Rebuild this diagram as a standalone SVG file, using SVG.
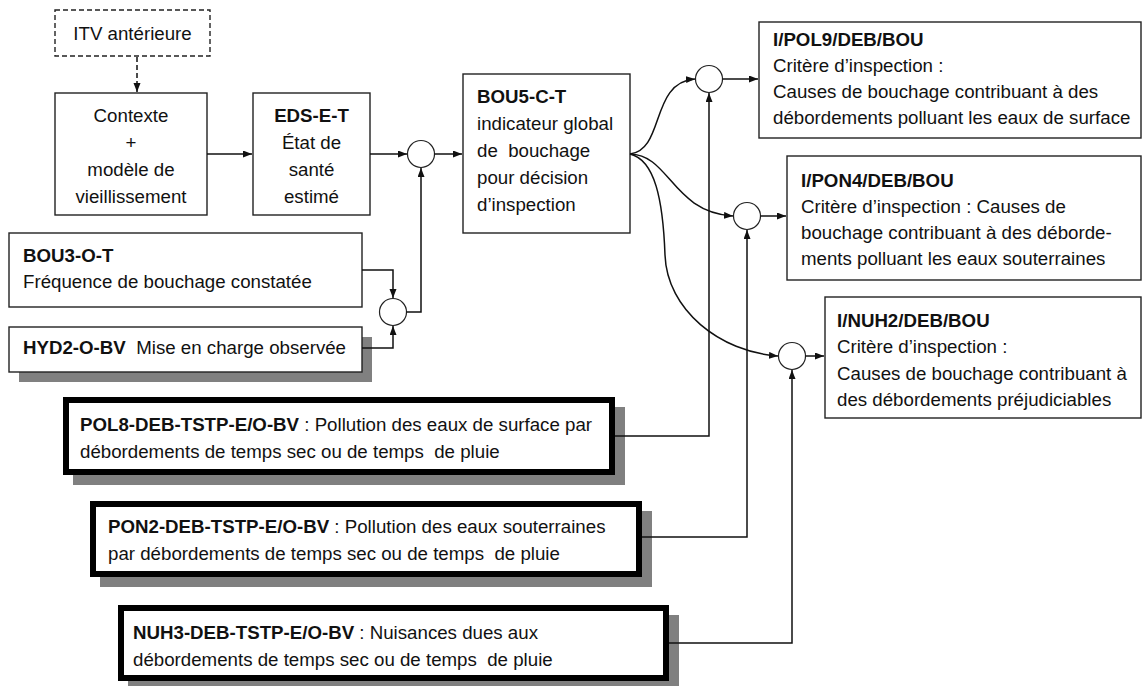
<svg xmlns="http://www.w3.org/2000/svg" width="1144" height="686" viewBox="0 0 1144 686">
<defs>
<marker id="ah" markerUnits="userSpaceOnUse" markerWidth="10" markerHeight="8" refX="9" refY="3.5" orient="auto">
<path d="M0,0 L9,3.5 L0,7 z" fill="#111"/>
</marker>
<style>
text{font-family:"Liberation Sans",Arial,sans-serif;font-size:18.7px;fill:#111;white-space:pre}
.b{font-weight:bold}
.m{text-anchor:middle}
.box{fill:#fff;stroke:#222;stroke-width:1.4}
.dash{fill:#fff;stroke:#222;stroke-width:1.4;stroke-dasharray:5,3}
.thick{fill:#fff;stroke:#000;stroke-width:6}
.sh{fill:#808080}
.circ{fill:#fff;stroke:#222;stroke-width:1.2}
.c{fill:none;stroke:#111;stroke-width:1.5}
</style>
</defs>
<rect width="1144" height="686" fill="#fff"/>

<g id="itv">
<rect class="dash" x="55" y="10" width="155" height="46"/>
<text class="m" x="132.5" y="40">ITV antérieure</text>
</g>
<g id="contexte">
<rect class="box" x="55" y="93" width="152" height="122"/>
<text class="m" x="131" y="122">Contexte</text>
<text class="m" x="131" y="149">+</text>
<text class="m" x="131" y="176">modèle de</text>
<text class="m" x="131" y="203">vieillissement</text>
</g>
<g id="eds">
<rect class="box" x="253" y="93" width="117" height="122"/>
<text class="m b" x="311.5" y="122">EDS-E-T</text>
<text class="m" x="311.5" y="149">État de</text>
<text class="m" x="311.5" y="176">santé</text>
<text class="m" x="311.5" y="203">estimé</text>
</g>
<g id="bou5">
<rect class="box" x="463" y="74" width="167" height="159"/>
<text class="b" x="477" y="103">BOU5-C-T</text>
<text x="477" y="130">indicateur global</text>
<text x="477" y="157">de  bouchage</text>
<text x="477" y="184">pour décision</text>
<text x="477" y="211">d’inspection</text>
</g>
<g id="bou3">
<rect class="box" x="9" y="233" width="353" height="74"/>
<text class="b" x="23" y="262">BOU3-O-T</text>
<text x="23" y="288">Fréquence de bouchage constatée</text>
</g>
<g id="hyd2">
<rect class="sh" x="19" y="337" width="353" height="45"/>
<rect class="box" x="9" y="327" width="353" height="45"/>
<text x="23" y="354"><tspan class="b">HYD2-O-BV</tspan>  Mise en charge observée</text>
</g>
<g id="pol9">
<rect class="box" x="759" y="22" width="382" height="116"/>
<text class="b" x="773" y="46">I/POL9/DEB/BOU</text>
<text x="773" y="72">Critère d’inspection :</text>
<text x="773" y="98">Causes de bouchage contribuant à des</text>
<text x="773" y="124">débordements polluant les eaux de surface</text>
</g>
<g id="pon4">
<rect class="box" x="787" y="156" width="354" height="124"/>
<text class="b" x="801" y="187">I/PON4/DEB/BOU</text>
<text x="801" y="213">Critère d’inspection : Causes de</text>
<text x="801" y="239">bouchage contribuant à des déborde-</text>
<text x="801" y="265">ments polluant les eaux souterraines</text>
</g>
<g id="nuh2">
<rect class="box" x="825" y="297" width="316" height="121"/>
<text class="b" x="837" y="327">I/NUH2/DEB/BOU</text>
<text x="837" y="353">Critère d’inspection :</text>
<text x="837" y="380">Causes de bouchage contribuant à</text>
<text x="837" y="406">des débordements préjudiciables</text>
</g>
<g id="pol8">
<rect class="sh" x="73" y="407" width="552" height="78"/>
<rect class="thick" x="66" y="400" width="546" height="72"/>
<text x="80" y="431"><tspan class="b">POL8-DEB-TSTP-E/O-BV</tspan> : Pollution des eaux de surface par</text>
<text x="80" y="458">débordements de temps sec ou de temps  de pluie</text>
</g>
<g id="pon2">
<rect class="sh" x="100" y="511" width="552" height="76"/>
<rect class="thick" x="93" y="504" width="546" height="70"/>
<text x="108" y="533"><tspan class="b">PON2-DEB-TSTP-E/O-BV</tspan> : Pollution des eaux souterraines</text>
<text x="108" y="560">par débordements de temps sec ou de temps  de pluie</text>
</g>
<g id="nuh3">
<rect class="sh" x="128" y="615" width="551" height="76"/>
<rect class="thick" x="121" y="608" width="545" height="70"/>
<text x="123" y="639" dx="10"><tspan class="b">NUH3-DEB-TSTP-E/O-BV</tspan> : Nuisances dues aux</text>
<text x="133" y="666">débordements de temps sec ou de temps  de pluie</text>
</g>
<g id="op1"><circle class="circ" cx="421" cy="154" r="13.5"/></g>
<g id="op2"><circle class="circ" cx="393" cy="312" r="13.5"/></g>
<g id="op3"><circle class="circ" cx="709" cy="79" r="13.5"/></g>
<g id="op4"><circle class="circ" cx="747" cy="216" r="13.5"/></g>
<g id="op5"><circle class="circ" cx="792" cy="356" r="13.5"/></g>

<g id="connectors">
<path class="c" d="M137,57 L137,92" stroke-dasharray="5,3" marker-end="url(#ah)"/>
<path class="c" d="M207,154 L252,154" marker-end="url(#ah)"/>
<path class="c" d="M370,154 L407,154" marker-end="url(#ah)"/>
<path class="c" d="M434.5,154 L462,154" marker-end="url(#ah)"/>
<path class="c" d="M406.5,312 L421,312 L421,168" marker-end="url(#ah)"/>
<path class="c" d="M362,270 L393,270 L393,298" marker-end="url(#ah)"/>
<path class="c" d="M362,348 L393,348 L393,326" marker-end="url(#ah)"/>
<path class="c" d="M630,154 C665,150 650,82 695,79" marker-end="url(#ah)"/>
<path class="c" d="M630,154 C670,155 672,212 733,216" marker-end="url(#ah)"/>
<path class="c" d="M630,154 C655,160 663,200 665,255 C667,310 720,352 778,356" marker-end="url(#ah)"/>
<path class="c" d="M722.5,79 L758,79" marker-end="url(#ah)"/>
<path class="c" d="M760.5,216 L786,216" marker-end="url(#ah)"/>
<path class="c" d="M805.5,356 L824,356" marker-end="url(#ah)"/>
<path class="c" d="M615,436 L709,436 L709,93" marker-end="url(#ah)"/>
<path class="c" d="M642,537 L747,537 L747,230" marker-end="url(#ah)"/>
<path class="c" d="M669,643 L792,643 L792,370" marker-end="url(#ah)"/>
</g>
</svg>
